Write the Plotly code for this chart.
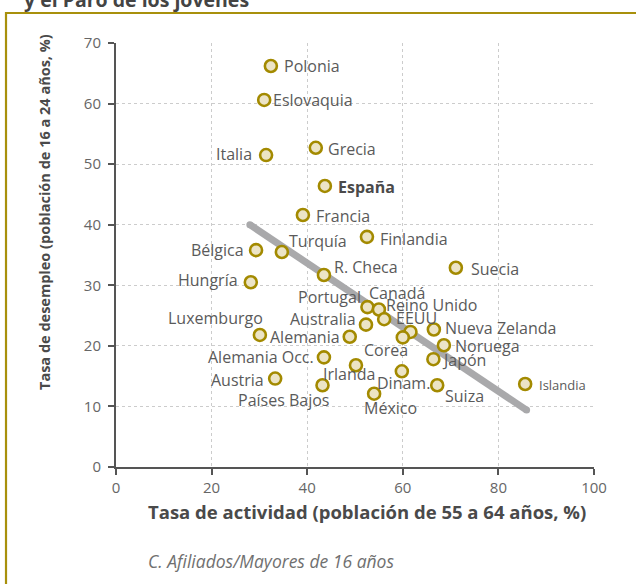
import plotly.graph_objects as go

# ---- data ----
countries = ["Polonia", "Eslovaquia", "Italia", "Grecia", "España", "Francia",
             "Finlandia", "Bélgica", "Turquía", "Hungría", "R. Checa", "Suecia",
             "Portugal", "Canadá", "Reino Unido", "EEUU", "Australia", "Luxemburgo",
             "Alemania", "Nueva Zelanda", "Noruega", "Japón", "Alemania Occ.", "Corea",
             "Irlanda", "Dinam.", "Suiza", "Islandia", "Austria", "Países Bajos", "México"]
activity_55_64 = [32.4, 31.0, 31.4, 41.8, 43.7, 39.1,
                  52.5, 29.3, 34.7, 28.2, 43.5, 71.1,
                  52.6, 55.0, 56.1, 61.6, 52.3, 30.1,
                  48.9, 66.5, 68.6, 66.4, 43.5, 60.0,
                  50.2, 59.8, 67.2, 85.6, 33.3, 43.2, 54.0]
unemployment_16_24 = [66.2, 60.6, 51.5, 52.7, 46.4, 41.6,
                      38.0, 35.8, 35.5, 30.5, 31.7, 32.9,
                      26.4, 26.0, 24.4, 22.3, 23.5, 21.8,
                      21.5, 22.7, 20.1, 17.8, 18.1, 21.4,
                      16.8, 15.8, 13.5, 13.7, 14.6, 13.5, 12.1]
trend_x = [28.0, 85.9]
trend_y = [40.0, 9.4]

x_ticks = [0, 20, 40, 60, 80, 100]
y_ticks = [0, 10, 20, 30, 40, 50, 60, 70]

title_text = "y el Paro de los jóvenes"
x_title = "Tasa de actividad (población de 55 a 64 años, %)"
y_title = "Tasa de desempleo (población de 16 a 24 años, %)"
source_text = "C. Afiliados/Mayores de 16 años"

# ---- label placement (anchor, x shift px, y shift px) ----
label_pos = {
    "Polonia": ("left", 11, 0), "Eslovaquia": ("left", 7, 0), "Italia": ("right", -12, 1),
    "Grecia": ("left", 10, -1), "España": ("left", 11, -1), "Francia": ("left", 11, -1),
    "Finlandia": ("left", 11, -2), "Bélgica": ("right", -10, 0), "Turquía": ("left", 5, 11),
    "Hungría": ("right", -11, 2), "R. Checa": ("left", 8, 8), "Suecia": ("left", 13, -1),
    "Portugal": ("right", -4, 10), "Canadá": ("left", -12, 17), "Reino Unido": ("left", 0, 14),
    "EEUU": ("center", 6, 14), "Australia": ("right", -8, 6), "Luxemburgo": ("right", 5, 17),
    "Alemania": ("right", -8, 0), "Nueva Zelanda": ("left", 9, 2), "Noruega": ("left", 9, -1),
    "Japón": ("left", 7, -1), "Alemania Occ.": ("right", -8, 0), "Corea": ("center", -17, -13),
    "Irlanda": ("center", -7, -9), "Dinam.": ("center", 2, -12), "Suiza": ("left", 6, -11),
    "Islandia": ("left", 12, -1), "Austria": ("right", -9, -1), "Países Bajos": ("right", 8, -15),
    "México": ("center", 16, -14),
}

FONT = "Open Sans"
GOLD = "#a8900c"

fig = go.Figure()
fig.add_trace(go.Scatter(
    x=trend_x, y=trend_y, mode="lines+markers",
    line=dict(color="#a9a9ab", width=7),
    marker=dict(size=7, color="#a9a9ab"),
    hoverinfo="skip", showlegend=False))
fig.add_trace(go.Scatter(
    x=activity_55_64, y=unemployment_16_24, mode="markers", text=countries,
    marker=dict(size=12, color="#ece4c6", line=dict(color="#a38a00", width=2.6)),
    showlegend=False, hovertemplate="%{text}: %{x}, %{y}<extra></extra>"))

annotations = []
for c, xv, yv in zip(countries, activity_55_64, unemployment_16_24):
    anchor, dx, dy = label_pos[c]
    bold = c == "España"
    annotations.append(dict(
        x=xv, y=yv, xref="x", yref="y", showarrow=False,
        text=f"<b>{c}</b>" if bold else c,
        xanchor=anchor, yanchor="middle", xshift=dx, yshift=dy,
        font=dict(family=FONT, size=13 if c == "Islandia" else 16,
                  color="#4a4a4a" if bold else "#5a5a5a")))

annotations += [
    dict(x=0.526, y=-0.104, xref="paper", yref="paper", showarrow=False,
         text=f"<b>{x_title}</b>", xanchor="center", yanchor="middle",
         font=dict(family=FONT, size=18.5, color="#4a4a4a")),
    dict(x=-0.151, y=0.601, xref="paper", yref="paper", showarrow=False,
         text=f"<b>{y_title}</b>", textangle=-90, xanchor="center", yanchor="middle",
         font=dict(family=FONT, size=14.5, color="#4a4a4a")),
    dict(x=0.324, y=-0.222, xref="paper", yref="paper", showarrow=False,
         text=f"<i>{source_text}</i>", xanchor="center", yanchor="middle",
         font=dict(family=FONT, size=17.5, color="#707070")),
    dict(x=-0.197, y=1.102, xref="paper", yref="paper", showarrow=False,
         text=f"<b>{title_text}</b>", xanchor="left", yanchor="middle",
         font=dict(family=FONT, size=19.5, color="#444444")),
]

fig.update_layout(
    width=636, height=584,
    margin=dict(l=116, r=42, t=43, b=117),
    paper_bgcolor="white", plot_bgcolor="white",
    annotations=annotations,
    shapes=[dict(type="rect", xref="paper", yref="paper",
                 x0=-0.2301, x1=1.3, y0=-0.4, y1=1.0708,
                 line=dict(color=GOLD, width=2.2), layer="above")],
    font=dict(family=FONT),
)
axis_common = dict(
    showgrid=True, gridcolor="#cccccc", griddash="dot", gridwidth=1,
    zeroline=False, showline=True, linecolor="#555555", linewidth=2,
    ticks="outside", ticklen=6, tickwidth=2, tickcolor="#555555",
    tickfont=dict(family=FONT, size=15, color="#666666"),
)
fig.update_xaxes(range=[0, 100], tickvals=x_ticks, **axis_common)
fig.update_yaxes(range=[0, 70], tickvals=y_ticks, ticklabelstandoff=4, **axis_common)

fig.write_html("out.html", config={"displayModeBar": False},
               post_script="document.body.style.margin='0px';")
